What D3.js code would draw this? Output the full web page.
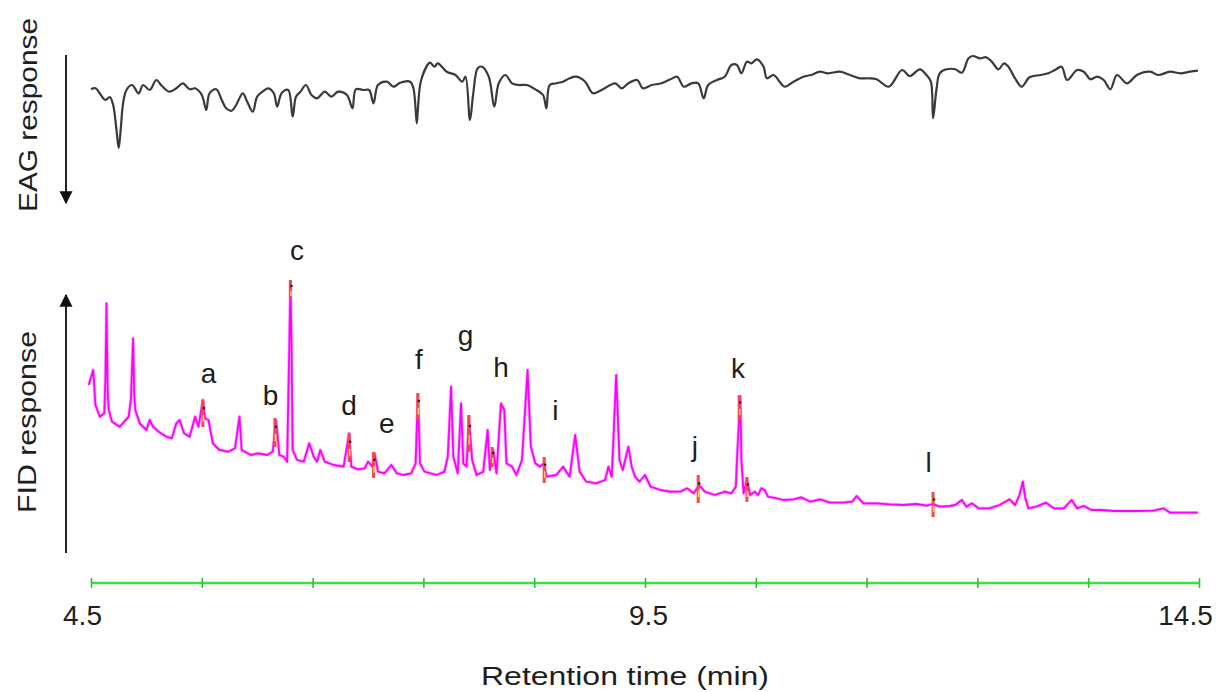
<!DOCTYPE html>
<html>
<head>
<meta charset="utf-8">
<script src="https://cdn.jsdelivr.net/npm/d3@7"></script>
<style>
  html, body { margin: 0; padding: 0; background: #ffffff; }
  svg { display: block; }
  text { font-family: "Liberation Sans", Arial, sans-serif; fill: #1e1e1e; }
</style>
</head>
<body>
<svg id="chart" width="1222" height="692"></svg>
<script>
// ---- EAG trace (antennal response, arbitrary mV units; dips = responses) ----
const eagTime = [4.50,4.54,4.63,4.67,4.70,4.73,4.75,4.77,4.79,4.82,4.87,4.93,4.97,5.03,5.09,5.14,5.21,5.27,5.33,5.39,
  5.44,5.50,5.54,5.57,5.63,5.68,5.72,5.77,5.81,5.87,5.91,5.96,6.00,6.06,6.10,6.15,6.18,6.22,6.28,6.32,
  6.35,6.39,6.44,6.49,6.54,6.61,6.67,6.73,6.81,6.86,6.89,6.96,7.01,7.05,7.09,7.17,7.23,7.29,7.38,7.41,
  7.44,7.45,7.48,7.56,7.60,7.63,7.71,7.79,7.85,7.88,7.92,7.95,7.99,8.03,8.09,8.14,8.18,8.24,8.30,8.36,
  8.43,8.52,8.58,8.61,8.64,8.70,8.76,8.82,8.88,8.96,9.03,9.12,9.23,9.29,9.35,9.43,9.48,9.56,9.65,9.73,
  9.79,9.85,9.92,9.98,10.03,10.07,10.15,10.22,10.28,10.33,10.37,10.42,10.46,10.51,10.57,10.60,10.66,10.76,10.84,10.93,
  11.00,11.08,11.15,11.26,11.35,11.44,11.52,11.59,11.70,11.82,11.89,11.98,12.04,12.08,12.10,12.13,12.16,12.22,12.30,12.36,
  12.42,12.46,12.52,12.58,12.63,12.69,12.74,12.78,12.84,12.90,12.97,13.07,13.14,13.20,13.26,13.31,13.40,13.46,13.52,13.58,
  13.64,13.70,13.76,13.85,13.94,14.06,14.13,14.24,14.33,14.42,14.49];
const eagValue = [1.07,1.17,0.00,0.30,-0.50,-3.00,-4.80,-2.67,-0.30,1.00,1.50,0.67,1.50,1.00,2.00,1.40,0.83,1.17,1.67,1.07,
  1.17,0.50,-1.00,0.67,1.07,0.00,-0.83,-1.07,-0.50,0.67,-0.17,-1.17,0.33,0.93,1.17,0.67,-0.67,0.67,1.00,-1.67,
  0.33,0.83,1.50,0.50,0.17,0.83,0.33,0.83,0.50,-0.83,1.07,1.00,1.00,-0.33,1.50,1.83,1.33,1.73,1.83,1.17,
  -2.33,-1.00,2.00,3.73,3.33,3.67,2.83,2.50,1.83,2.33,-2.00,0.67,3.17,3.33,2.33,-0.67,1.67,2.50,1.67,1.50,
  1.50,1.00,0.50,-0.83,1.50,1.67,1.83,2.17,2.33,1.83,0.67,1.07,1.67,1.17,1.67,2.00,1.17,1.50,1.67,2.07,
  2.33,1.33,1.67,1.67,0.17,1.50,2.00,2.33,3.50,3.50,2.67,3.83,3.67,4.07,3.33,2.17,2.50,1.33,1.83,2.33,
  2.50,2.83,2.67,2.83,2.50,2.17,2.17,2.07,1.33,3.00,2.40,3.07,2.50,1.83,-1.83,1.00,2.67,3.07,3.07,2.73,
  4.17,4.40,4.17,4.27,3.83,3.07,3.67,3.33,2.17,1.33,2.27,2.50,2.67,3.00,3.33,2.00,3.00,2.83,2.07,2.33,
  2.00,1.07,2.50,1.67,2.50,2.83,2.50,2.83,2.67,2.83,2.93];

// ---- FID trace (detector response, arbitrary units) ----
const fidTime = [4.48,4.52,4.54,4.58,4.62,4.63,4.64,4.65,4.66,4.69,4.76,4.84,4.86,4.88,4.89,4.90,4.94,5.00,5.03,5.06,
  5.11,5.18,5.23,5.27,5.30,5.34,5.39,5.44,5.47,5.51,5.53,5.56,5.60,5.66,5.74,5.80,5.84,5.86,5.94,6.01,
  6.09,6.14,6.17,6.20,6.24,6.27,6.29,6.30,6.31,6.32,6.36,6.42,6.47,6.51,6.54,6.57,6.61,6.69,6.78,6.83,
  6.85,6.91,6.97,7.00,7.04,7.06,7.09,7.15,7.21,7.26,7.32,7.39,7.43,7.45,7.47,7.51,7.62,7.69,7.72,7.75,
  7.77,7.81,7.84,7.86,7.89,7.91,7.94,7.98,8.04,8.08,8.10,8.13,8.16,8.20,8.23,8.25,8.30,8.34,8.39,8.44,
  8.47,8.51,8.55,8.59,8.61,8.70,8.76,8.82,8.87,8.91,8.97,9.06,9.14,9.17,9.20,9.24,9.27,9.30,9.35,9.38,
  9.41,9.45,9.50,9.55,9.64,9.73,9.82,9.88,9.94,9.99,10.04,10.13,10.22,10.28,10.32,10.33,10.36,10.37,10.39,10.42,
  10.45,10.49,10.52,10.55,10.58,10.61,10.69,10.75,10.84,10.91,10.99,11.08,11.17,11.29,11.37,11.41,11.47,11.59,11.71,11.83,
  11.95,12.04,12.10,12.16,12.25,12.30,12.36,12.40,12.45,12.51,12.61,12.70,12.79,12.84,12.88,12.91,12.93,12.96,13.03,13.12,
  13.19,13.28,13.35,13.40,13.46,13.53,13.62,13.73,13.85,13.95,14.09,14.18,14.24,14.36,14.49];
const fidValue = [13.5,15.0,11.5,10.33,10.67,14.0,21.67,13.0,11.0,9.83,9.33,10.33,12.0,18.17,12.5,11.0,9.67,9.0,10.0,9.33,
  8.83,8.33,8.17,9.67,10.0,8.67,8.33,10.33,9.33,12.0,10.17,10.0,7.67,7.0,6.83,7.17,10.33,7.0,6.5,6.67,
  6.5,6.83,10.0,6.5,6.33,5.83,17.5,23.83,17.5,7.0,6.0,5.83,7.67,6.33,5.83,7.0,5.83,5.5,5.33,8.67,
  5.33,5.07,5.17,5.83,5.33,6.67,4.83,4.67,5.5,4.67,4.5,4.67,5.67,12.5,5.67,4.83,4.5,4.83,6.33,13.33,
  6.33,4.67,11.67,5.67,5.33,10.33,6.0,4.5,4.83,9.0,5.0,7.0,4.67,11.67,11.0,5.67,5.33,4.5,6.0,15.0,
  7.33,5.67,5.33,5.67,4.33,4.5,5.33,4.33,8.5,4.83,3.83,3.67,4.0,5.33,4.33,14.5,6.0,5.0,7.33,5.33,
  4.33,3.83,4.5,3.33,3.0,2.83,2.83,3.17,2.67,3.5,2.83,2.5,2.83,2.67,3.33,6.0,12.33,6.0,2.67,4.0,
  2.5,2.83,2.5,3.17,3.0,2.33,2.17,2.0,2.07,2.27,1.83,2.07,1.73,1.73,1.83,2.4,1.67,1.67,1.57,1.5,
  1.6,1.43,1.6,1.33,1.4,1.5,2.0,1.33,1.67,1.17,1.17,1.5,2.07,1.5,2.5,3.83,2.33,1.17,1.33,1.73,
  1.17,1.17,2.0,1.17,1.4,1.0,1.0,0.9,0.9,0.9,0.93,1.17,0.73,0.73,0.73];

// ---- EAG-active compounds: labelled peaks ----
const peakLetters = ["a","b","c","d","e","f","g","h","i","j","k","l"];
const labelTime   = [5.56,6.12,6.36,6.83,7.17,7.46,7.88,8.20,8.69,9.95,10.34,12.06];
const labelValue  = [13.7,11.5,26.0,10.5,8.7,15.1,17.5,14.3,10.0,6.4,14.2,4.8];

// highlighted stretches of the FID trace at the active retention times
const markerTime = [5.51,6.16,6.30,6.83,7.05,7.45,7.91,8.12,8.59,9.98,10.35,10.42,12.10];
const markerHigh = [12.0,10.2,24.0,8.7,6.8,12.7,10.5,7.3,6.3,4.5,12.5,4.3,2.8];
const markerLow  = [9.3,7.3,22.0,5.8,4.2,10.0,6.8,5.3,3.7,1.7,10.0,1.8,0.3];

// ---- time axis ----
const tickMinutes = [4.5,5.5,6.5,7.5,8.5,9.5,10.5,11.5,12.5,13.5,14.5];
const tickLabels  = ["4.5","9.5","14.5"];
const axisTitle   = "Retention time (min)";
const eagTitle    = "EAG response";
const fidTitle    = "FID response";

const svg = d3.select("#chart");

const x    = d3.scaleLinear().domain([4.5, 14.5]).range([91, 1199]);
const yEag = d3.scaleLinear().domain([-6, 6]).range([160, 40]);
const yFid = d3.scaleLinear().domain([0, 25]).range([520, 270]);

// EAG trace
const eagLine = d3.line().x(d => x(d[0])).y(d => yEag(d[1])).curve(d3.curveCatmullRom.alpha(0.5));
svg.append("path")
  .datum(d3.zip(eagTime, eagValue))
  .attr("d", eagLine)
  .attr("fill", "none")
  .attr("stroke", "#3a3a3a")
  .attr("stroke-width", 2.2)
  .attr("stroke-linejoin", "round");

// FID trace
const fidLine = d3.line().x(d => x(d[0])).y(d => yFid(d[1]));
svg.append("path")
  .datum(d3.zip(fidTime, fidValue))
  .attr("d", fidLine)
  .attr("fill", "none")
  .attr("stroke", "#ff33ff")
  .attr("stroke-width", 3.2)
  .attr("stroke-opacity", 0.45)
  .attr("stroke-linejoin", "round");
svg.append("path")
  .datum(d3.zip(fidTime, fidValue))
  .attr("d", fidLine)
  .attr("fill", "none")
  .attr("stroke", "#ff00ff")
  .attr("stroke-width", 1.8)
  .attr("stroke-linejoin", "round");

// active-peak highlights (red with a yellow lower stretch)
const markers = d3.zip(markerTime, markerHigh, markerLow);
const mg = svg.append("g");
mg.selectAll("line.red").data(markers).join("line")
  .attr("class", "red")
  .attr("x1", d => x(d[0])).attr("x2", d => x(d[0]))
  .attr("y1", d => yFid(d[1])).attr("y2", d => yFid(d[2]))
  .attr("stroke", "#f24a4a").attr("stroke-width", 3);
mg.selectAll("line.yel").data(markers).join("line")
  .attr("class", "yel")
  .attr("x1", d => x(d[0]) + 0.5).attr("x2", d => x(d[0]) + 0.5)
  .attr("y1", d => yFid(d[2] + (d[1] - d[2]) * 0.45)).attr("y2", d => yFid(d[2] + (d[1] - d[2]) * 0.2))
  .attr("stroke", "#ffd84a").attr("stroke-width", 1.5);
mg.selectAll("circle").data(markers).join("circle")
  .attr("cx", d => x(d[0]) + 1).attr("cy", d => yFid(d[1] - (d[1] - d[2]) * 0.3))
  .attr("r", 1.3).attr("fill", "#3a1a1a");

// peak letters
svg.append("g").selectAll("text").data(d3.zip(peakLetters, labelTime, labelValue)).join("text")
  .attr("x", d => x(d[1]))
  .attr("y", d => yFid(d[2]))
  .attr("text-anchor", "middle")
  .attr("font-size", 28)
  .text(d => d[0]);

// retention-time axis: green baseline with minute ticks
const axisY = 583;
svg.append("line")
  .attr("x1", x.range()[0]).attr("x2", x.range()[1])
  .attr("y1", axisY).attr("y2", axisY)
  .attr("stroke", "#3ee03e").attr("stroke-width", 2.6);
const tickAxis = d3.axisBottom(x).tickValues(tickMinutes).tickSize(10).tickFormat("");
const tg = svg.append("g").attr("transform", `translate(0,${axisY - 5})`).call(tickAxis);
tg.select(".domain").remove();
tg.selectAll(".tick line").attr("stroke", "#2bc42b").attr("stroke-width", 1.6);

const labelAxis = d3.axisBottom(x).tickValues(tickLabels.map(Number)).tickSize(0).tickPadding(0)
  .tickFormat(d3.format(".1f"));
const lg = svg.append("g").attr("transform", `translate(0,${axisY + 22})`).call(labelAxis);
lg.select(".domain").remove();
lg.selectAll(".tick text")
  .attr("font-family", "Liberation Sans, Arial, sans-serif")
  .attr("font-size", 28)
  .attr("fill", "#1e1e1e")
  .attr("dy", "0.72em")
  .attr("dx", (d, i, n) => i === 0 ? -9 : (i === n.length - 1 ? -14 : 3));

svg.append("text")
  .attr("x", 625).attr("y", 685)
  .attr("text-anchor", "middle")
  .attr("font-size", 25)
  .attr("textLength", 288)
  .attr("lengthAdjust", "spacingAndGlyphs")
  .text(axisTitle);

// vertical titles with direction arrows
svg.append("text")
  .attr("transform", "translate(37,115) rotate(-90)")
  .attr("text-anchor", "middle")
  .attr("font-size", 25)
  .attr("textLength", 194)
  .attr("lengthAdjust", "spacingAndGlyphs")
  .text(eagTitle);
svg.append("text")
  .attr("transform", "translate(36,422) rotate(-90)")
  .attr("text-anchor", "middle")
  .attr("font-size", 25)
  .attr("textLength", 182)
  .attr("lengthAdjust", "spacingAndGlyphs")
  .text(fidTitle);

const defs = svg.append("defs");
defs.append("marker")
  .attr("id", "head").attr("viewBox", "0 0 10 10")
  .attr("refX", 9).attr("refY", 5)
  .attr("markerWidth", 13).attr("markerHeight", 15)
  .attr("markerUnits", "userSpaceOnUse")
  .attr("orient", "auto")
  .append("path").attr("d", "M0,0 L10,5 L0,10 Z").attr("fill", "#111");

svg.append("line")
  .attr("x1", 66).attr("x2", 66).attr("y1", 55).attr("y2", 203)
  .attr("stroke", "#222").attr("stroke-width", 2)
  .attr("marker-end", "url(#head)");
svg.append("line")
  .attr("x1", 66).attr("x2", 66).attr("y1", 553).attr("y2", 295)
  .attr("stroke", "#222").attr("stroke-width", 2)
  .attr("marker-end", "url(#head)");
</script>
</body>
</html>
